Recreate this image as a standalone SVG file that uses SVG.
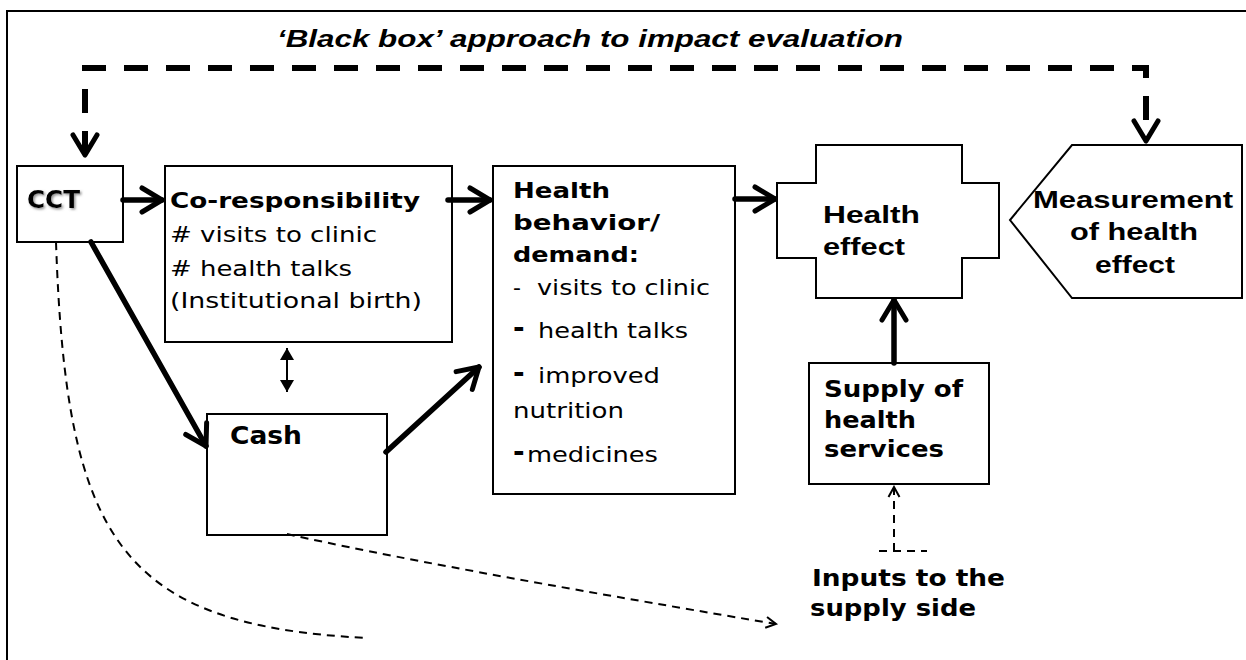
<svg xmlns="http://www.w3.org/2000/svg" width="1246" height="660" viewBox="0 0 1246 660">
<defs>
<style>
.box{fill:#fff;stroke:#000;stroke-width:2}
.thick{fill:none;stroke:#000;stroke-width:5.5;stroke-linecap:round}
.bigdash{fill:none;stroke:#000;stroke-width:6;stroke-dasharray:24 18}
.thindash{fill:none;stroke:#000;stroke-width:2;stroke-dasharray:8 6}
.thin{fill:none;stroke:#000;stroke-width:2}
.v{font-family:"DejaVu Sans","Verdana",sans-serif;fill:#000}
.a{font-family:"Liberation Sans",Arial,sans-serif;fill:#000}
.b{font-weight:bold}
</style>
<marker id="ah" viewBox="0 0 26 30" refX="23" refY="15" markerWidth="26" markerHeight="30" markerUnits="userSpaceOnUse" orient="auto-start-reverse">
<path d="M3,3 L23,15 L3,27" fill="none" stroke="#000" stroke-width="5" stroke-linecap="round" stroke-linejoin="round"/>
</marker>
<marker id="sm" viewBox="0 0 14 14" refX="12" refY="7" markerWidth="14" markerHeight="14" markerUnits="userSpaceOnUse" orient="auto">
<path d="M2,1.5 L12,7 L2,12.5" fill="none" stroke="#000" stroke-width="2"/>
</marker>
<marker id="tri" viewBox="0 0 12 14" refX="12" refY="7" markerWidth="12" markerHeight="14" markerUnits="userSpaceOnUse" orient="auto-start-reverse">
<path d="M0,0 L12,7 L0,14 Z" fill="#000"/>
</marker>
<filter id="sh" x="-10%" y="-10%" width="130%" height="140%">
<feDropShadow dx="1.5" dy="1.5" stdDeviation="0.8" flood-color="#888" flood-opacity="0.9"/>
</filter>
</defs>

<path d="M1250,11 H7 V665" fill="none" stroke="#000" stroke-width="2"/>

<text class="a b" x="277" y="47" font-size="23" font-style="italic" textLength="626" lengthAdjust="spacingAndGlyphs">‘Black box’ approach to impact evaluation</text>

<g id="cct">
<rect class="box" x="17" y="166" width="106" height="76"/>
<text class="v b" x="27" y="208" font-size="24" textLength="53" lengthAdjust="spacingAndGlyphs" filter="url(#sh)">CCT</text>
</g>

<g id="coresp">
<rect class="box" x="165" y="166" width="287" height="176"/>
<text class="v b" x="170" y="208" font-size="22" textLength="250" lengthAdjust="spacingAndGlyphs">Co-responsibility</text>
<text class="v" x="170" y="242" font-size="22" textLength="207" lengthAdjust="spacingAndGlyphs"># visits to clinic</text>
<text class="v" x="170" y="276" font-size="22" textLength="182" lengthAdjust="spacingAndGlyphs"># health talks</text>
<text class="v" x="170" y="308" font-size="22" textLength="252" lengthAdjust="spacingAndGlyphs">(Institutional birth)</text>
</g>

<g id="behavior">
<rect class="box" x="493" y="166" width="242" height="328"/>
<text class="v b" x="513" y="198" font-size="22" textLength="97" lengthAdjust="spacingAndGlyphs">Health</text>
<text class="v b" x="513" y="230" font-size="22" textLength="147" lengthAdjust="spacingAndGlyphs">behavior/</text>
<text class="v b" x="513" y="262" font-size="22" textLength="126" lengthAdjust="spacingAndGlyphs">demand:</text>
<text class="v" x="513" y="295" font-size="22">-</text>
<text class="v" x="537" y="295" font-size="22" textLength="173" lengthAdjust="spacingAndGlyphs">visits to clinic</text>
<text class="v b" x="513" y="337" font-size="28">-</text>
<text class="v" x="538" y="338" font-size="22" textLength="150" lengthAdjust="spacingAndGlyphs">health talks</text>
<text class="v b" x="513" y="382" font-size="28">-</text>
<text class="v" x="538" y="383" font-size="22" textLength="122" lengthAdjust="spacingAndGlyphs">improved</text>
<text class="v" x="513" y="418" font-size="22" textLength="111" lengthAdjust="spacingAndGlyphs">nutrition</text>
<text class="v b" x="513" y="461" font-size="28">-</text>
<text class="v" x="527" y="462" font-size="22" textLength="131" lengthAdjust="spacingAndGlyphs">medicines</text>
</g>

<g id="cash">
<rect class="box" x="207" y="414" width="180" height="121"/>
<text class="v b" x="230" y="444" font-size="24" textLength="72" lengthAdjust="spacingAndGlyphs">Cash</text>
</g>

<g id="effect">
<path class="box" d="M816,145 H962 V183 H999 V258 H962 V298 H816 V258 H777 V183 H816 Z"/>
<text class="a b" x="823" y="223" font-size="24" textLength="97" lengthAdjust="spacingAndGlyphs">Health</text>
<text class="a b" x="823" y="255" font-size="24" textLength="82" lengthAdjust="spacingAndGlyphs">effect</text>
</g>

<g id="measurement">
<path class="box" d="M1072,145 H1242 V298 H1072 L1010,220 Z"/>
<text class="a b" x="1133" y="208" font-size="24" text-anchor="middle" textLength="200" lengthAdjust="spacingAndGlyphs">Measurement</text>
<text class="a b" x="1134" y="240" font-size="24" text-anchor="middle" textLength="128" lengthAdjust="spacingAndGlyphs">of health</text>
<text class="a b" x="1135" y="273" font-size="24" text-anchor="middle" textLength="80" lengthAdjust="spacingAndGlyphs">effect</text>
</g>

<g id="supply">
<rect class="box" x="809" y="363" width="180" height="121"/>
<text class="v b" x="824" y="397" font-size="23" textLength="139" lengthAdjust="spacingAndGlyphs">Supply of</text>
<text class="v b" x="824" y="428" font-size="23" textLength="92" lengthAdjust="spacingAndGlyphs">health</text>
<text class="v b" x="824" y="457" font-size="23" textLength="120" lengthAdjust="spacingAndGlyphs">services</text>
</g>

<g id="inputs">
<text class="v b" x="812" y="586" font-size="23" textLength="193" lengthAdjust="spacingAndGlyphs">Inputs to the</text>
<text class="v b" x="810" y="616" font-size="23" textLength="166" lengthAdjust="spacingAndGlyphs">supply side</text>
</g>

<g id="connectors">
<path class="bigdash" d="M85,155 V68 H1146 V141" marker-start="url(#ah)" marker-end="url(#ah)"/>
<path class="thick" d="M123,200 H162" marker-end="url(#ah)"/>
<path class="thick" d="M448,200 H490" marker-end="url(#ah)"/>
<path class="thick" d="M735,199 H775" marker-end="url(#ah)"/>
<path class="thick" d="M91,242 L206,446" marker-end="url(#ah)"/>
<path class="thick" d="M386,452 L479,367" marker-end="url(#ah)"/>
<path class="thick" d="M894,363 V300" marker-end="url(#ah)"/>
<path class="thin" d="M287,348 V392" marker-start="url(#tri)" marker-end="url(#tri)"/>
<path class="thindash" d="M894,551 V487" marker-end="url(#sm)"/>
<path class="thindash" d="M879,551 H927"/>
<path class="thindash" d="M56,242 C66,540 120,625 366,638"/>
<path class="thindash" d="M287,534 Q430,566 776,624" marker-end="url(#sm)"/>
</g>
</svg>
